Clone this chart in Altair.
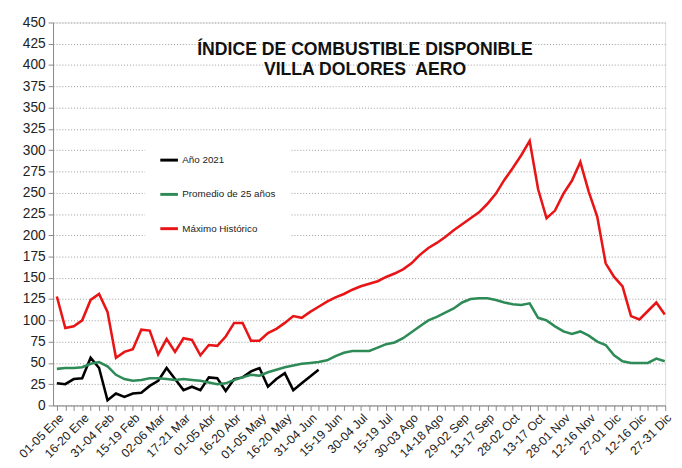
import json
import altair as alt
import pandas as pd

tick_labels = ["01-05 Ene", "16-20 Ene", "31-04 Feb", "15-19 Feb", "02-06 Mar",
               "17-21 Mar", "01-05 Abr", "16-20 Abr", "01-05 May", "16-20 May",
               "31-04 Jun", "15-19 Jun", "30-04 Jul", "15-19 Jul", "30-03 Ago",
               "14-18 Ago", "29-02 Sep", "13-17 Sep", "28-02 Oct", "13-17 Oct",
               "28-01 Nov", "12-16 Nov", "27-01 Dic", "12-16 Dic", "27-31 Dic"]

series_names = ["Año 2021", "Promedio de 25 años", "Máximo Histórico"]

ano_2021 = [26, 25, 31, 32, 56, 44, 6, 14, 10, 14,
            15, 23, 29, 44, 31, 18, 22, 18, 33, 32,
            17, 31, 33, 40, 44, 22, 31, 38, 18, 26,
            34, 42]

promedio = [43, 44, 44, 45, 49, 51, 46, 36, 31, 29,
            30, 32, 32, 31, 30, 31, 30, 29, 27, 25,
            26, 30, 33, 36, 35, 39, 42, 45, 47, 49,
            50, 51, 53, 58, 62, 64, 64, 64, 68, 72,
            74, 79, 86, 93, 100, 104, 109, 114, 121, 125,
            126, 126, 124, 121, 119, 118, 120, 103, 100, 93,
            87, 84, 87, 82, 75, 71, 59, 52, 50, 50,
            50, 55, 52]

maximo = [128, 91, 93, 100, 124, 131, 110, 56, 63, 66,
          89, 88, 60, 78, 63, 79, 77, 59, 71, 70,
          81, 97, 97, 76, 76, 85, 90, 97, 105, 103,
          110, 116, 122, 127, 131, 136, 140, 143, 146, 151,
          155, 160, 167, 177, 185, 191, 198, 206, 213, 220,
          227, 237, 249, 265, 279, 294, 311, 254, 220, 229,
          249, 264, 286, 251, 222, 167, 151, 140, 105, 101,
          111, 121, 107]

title_lines = ["ÍNDICE DE COMBUSTIBLE DISPONIBLE", "VILLA DOLORES\u00a0 AERO"]

rows = []
for name, vals in zip(series_names, [ano_2021, promedio, maximo]):
    for i, v in enumerate(vals):
        rows.append({"pentada": i, "valor": v, "serie": name})
df = pd.DataFrame(rows)

label_expr = ("datum.value % 3 == 0 ? " + json.dumps(tick_labels)
              + "[datum.value / 3] : ''")

FONT = "Liberation Sans"

chart = alt.Chart(df).mark_line(strokeWidth=2.6).encode(
    x=alt.X(
        "pentada:Q",
        scale=alt.Scale(domain=[-0.45, 72.05], nice=False, zero=False),
        axis=alt.Axis(
            values=list(range(73)), labelExpr=label_expr, labelAngle=-45,
            labelAlign="right", labelBaseline="top", labelOverlap=False,
            labelBound=False, labelFlush=False, labelFontSize=12.5,
            labelPadding=1, tickSize=5, grid=False, title=None,
            domainColor="#888888", tickColor="#888888", labelColor="#222222",
            labelFont=FONT,
        ),
    ),
    y=alt.Y(
        "valor:Q",
        scale=alt.Scale(domain=[0, 450], nice=False),
        axis=alt.Axis(
            values=list(range(0, 451, 25)), title=None, grid=True,
            gridDash=[1, 2], gridColor="#9a9a9a", gridWidth=1,
            domainColor="#888888", tickColor="#888888", tickSize=5,
            labelPadding=3, labelFontSize=14, labelColor="#222222",
            labelFont=FONT,
        ),
    ),
    color=alt.Color(
        "serie:N",
        scale=alt.Scale(domain=series_names,
                        range=["#000000", "#2e8b57", "#e81416"]),
        legend=alt.Legend(
            title=None, orient="none", legendX=94, legendY=116,
            fillColor="white", padding=14, symbolType="stroke",
            symbolSize=324, symbolStrokeWidth=3, labelFontSize=10,
            labelFont=FONT, labelColor="#222222", labelOffset=3,
            rowPadding=18,
        ),
    ),
).properties(
    width=625,
    height=391,
    padding={"left": 9, "top": 3, "right": 0, "bottom": 0},
    title=alt.TitleParams(
        text=title_lines, fontSize=18, fontWeight="bold", font=FONT,
        anchor="middle", frame="group", offset=-65, lineHeight=21,
        dx=6, color="#111111",
    ),
).configure_view(stroke=None).configure(background="white")

chart.save("out.html", embed_options={"renderer": "svg", "actions": False})
